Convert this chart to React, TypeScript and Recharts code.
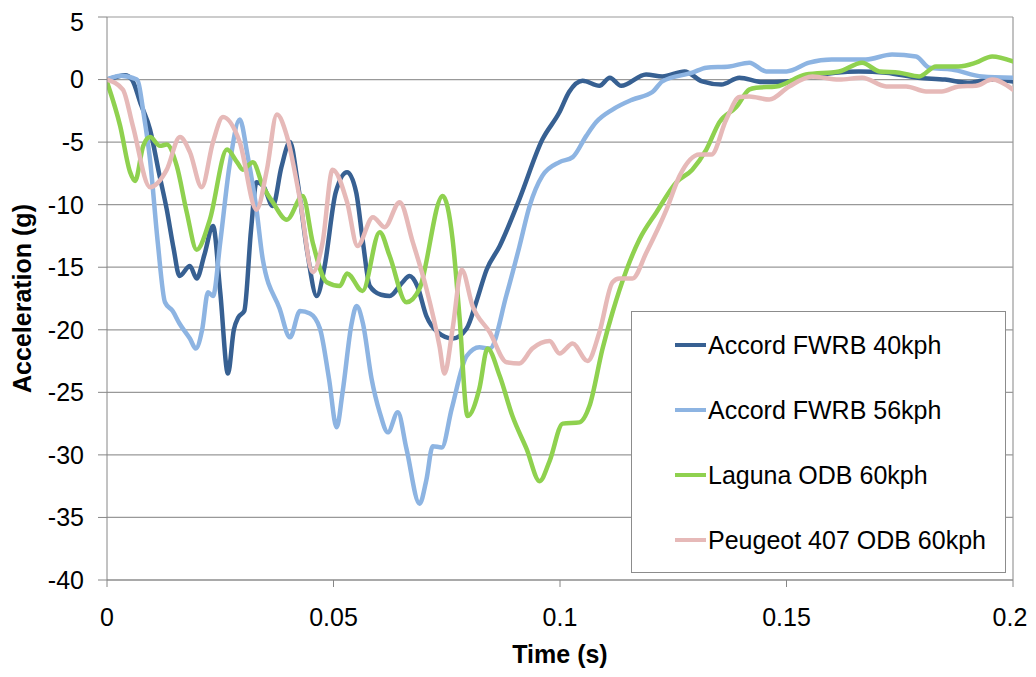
import {
  LineChart,
  Line,
  XAxis,
  YAxis,
  CartesianGrid,
  Legend,
  ReferenceLine,
} from "recharts";

const FONT = '"Liberation Sans", Arial, sans-serif';

const xTicks = [0, 0.05, 0.1, 0.15, 0.2];
const yTicks = [-40, -35, -30, -25, -20, -15, -10, -5, 0, 5];

// Accord FWRB 40kph
const accord40T = [
  0, 0.002, 0.004, 0.0055, 0.0075, 0.0095, 0.0115, 0.0132, 0.0147, 0.016,
  0.0183, 0.0198, 0.0215, 0.0234, 0.025, 0.0267, 0.028, 0.029, 0.0303, 0.0318,
  0.033, 0.0345, 0.0366, 0.0385, 0.0404, 0.042, 0.0443, 0.0463, 0.048, 0.0505,
  0.053, 0.055, 0.0565, 0.058, 0.0605, 0.0624, 0.065, 0.0668, 0.0685, 0.0705,
  0.073, 0.0763, 0.0794, 0.0815, 0.0838, 0.0867, 0.091, 0.0961, 0.0999, 0.102,
  0.105, 0.1087, 0.111, 0.1135, 0.119, 0.1226, 0.1275, 0.1314, 0.1356, 0.1396,
  0.1447, 0.15, 0.155, 0.166, 0.172, 0.179, 0.185, 0.19, 0.195, 0.2,
];
const accord40G = [
  0, 0.2, 0.35, 0, -2, -4, -7.5, -10.4, -13.5, -15.7,
  -14.9, -15.9, -14, -11.7, -17, -23.5, -20, -19, -18.5, -12,
  -8.2, -8.5, -10.1, -7, -5, -8, -14, -17.3, -15, -9,
  -7.4, -9, -13, -16.5, -17.2, -17.3, -16.3, -15.7, -16.5, -18.9,
  -20.2, -20.7, -19.9, -17.8, -15.2, -13.3, -9.6, -4.8, -2.6, -1.0,
  -0.1, -0.5, 0.15, -0.5, 0.4, 0.25, 0.65, -0.15, -0.4, 0.15,
  -0.2, -0.15, 0.25, 0.65, 0.55, 0.15, 0, -0.25, 0, -0.15,
];

// Accord FWRB 56kph
const accord56T = [
  0, 0.003, 0.0066, 0.0082, 0.0095, 0.0112, 0.0128, 0.0145, 0.016, 0.0183,
  0.0196, 0.021, 0.0223, 0.0234, 0.025, 0.027, 0.0293, 0.031, 0.033, 0.0344,
  0.0381, 0.0404, 0.0426, 0.0448, 0.047, 0.049, 0.0507, 0.052, 0.054, 0.0551,
  0.0565, 0.0584, 0.0602, 0.062, 0.0642, 0.0661, 0.069, 0.0705, 0.0719, 0.0739,
  0.0761, 0.0794, 0.0822, 0.0845, 0.0882, 0.091, 0.0933, 0.0961, 0.0999, 0.1028,
  0.1058, 0.108, 0.1116, 0.116, 0.1204, 0.1226, 0.1292, 0.1323, 0.1374, 0.1418,
  0.1455, 0.15, 0.155, 0.16, 0.1675, 0.1733, 0.1786, 0.1815, 0.1865, 0.1932,
  0.2,
];
const accord56G = [
  0, 0.3, 0, -3, -6.4, -13, -17.8, -18.5, -19.5, -20.7,
  -21.5, -20, -17, -17.3, -13, -7, -3.2, -6, -10.4, -14.4,
  -18.3, -20.6, -18.5, -18.7, -19.9, -23.9, -27.8, -25, -19.5, -18.1,
  -19.5, -23.9, -26.6, -28.2, -26.6, -29.5, -33.9, -32, -29.3, -29.4,
  -26.3, -22.1, -21.4, -21.5, -17.2, -13.4, -10.1, -7.7, -6.6, -6.2,
  -4.5, -3.4, -2.4, -1.6, -1.0, -0.15, 0.55, 0.95, 1.05, 1.35,
  0.65, 0.65, 1.35, 1.6, 1.6, 2.0, 1.85, 0.95, 0.8, 0.25,
  0.15,
];

// Laguna ODB 60kph
const lagunaT = [
  0, 0.0029, 0.0051, 0.0062, 0.008, 0.0095, 0.0117, 0.0132, 0.0154, 0.0176,
  0.0198, 0.0227, 0.0265, 0.0287, 0.03, 0.0322, 0.0344, 0.0366, 0.0397, 0.0432,
  0.0454, 0.0485, 0.0514, 0.053, 0.0564, 0.0602, 0.0624, 0.0661, 0.069, 0.0741,
  0.0763, 0.0778, 0.0796, 0.0822, 0.084, 0.0867, 0.0895, 0.0926, 0.0955, 0.0977,
  0.1006, 0.1043, 0.1065, 0.1094, 0.1116, 0.1147, 0.1175, 0.1213, 0.1257, 0.1292,
  0.1323, 0.1352, 0.1389, 0.1418, 0.1433, 0.1477, 0.1543, 0.1616, 0.1667, 0.1705,
  0.1749, 0.1793, 0.183, 0.188, 0.1918, 0.1954, 0.2,
];
const lagunaG = [
  -0.2, -3.7, -7.4, -8.1, -5.3, -4.6, -5.3, -5.2, -6.9, -10.6,
  -13.6, -11.2, -5.6, -6.6, -7.2, -6.6, -8.5, -9.8, -11.2, -9.3,
  -13, -16.2, -16.5, -15.5, -16.9, -12.2, -14.1, -17.8, -16.7, -9.3,
  -12.8, -18.9, -26.9, -24.7, -21.5, -23.7, -26.9, -29.5, -32.1, -30.5,
  -27.5, -27.4, -26.1, -21.5, -18.6, -15.2, -12.8, -10.6, -8.2, -7.2,
  -5.6, -3.4, -2.2, -0.8, -0.65, -0.55, 0.4, 0.65, 1.35, 0.65,
  0.55, 0.25, 1.05, 1.05, 1.35, 1.85, 1.45,
];

// Peugeot 407 ODB 60kph
const peugeotT = [
  0, 0.0035, 0.0057, 0.0095, 0.0132, 0.0161, 0.0183, 0.0209, 0.0234, 0.0256,
  0.0293, 0.033, 0.0353, 0.0375, 0.0397, 0.0426, 0.0454, 0.0476, 0.0498, 0.053,
  0.0553, 0.0587, 0.0613, 0.0646, 0.0675, 0.0705, 0.0734, 0.0745, 0.0763, 0.0783,
  0.0807, 0.0845, 0.0882, 0.091, 0.0939, 0.0977, 0.0999, 0.1028, 0.1061, 0.1087,
  0.1116, 0.1131, 0.116, 0.1191, 0.1235, 0.1264, 0.1308, 0.1334, 0.1367, 0.1396,
  0.1418, 0.1462, 0.1506, 0.1557, 0.1616, 0.1667, 0.172, 0.1764, 0.1808, 0.1843,
  0.188, 0.1918, 0.1954, 0.2,
];
const peugeotG = [
  0, -0.8, -3.7, -8.6, -7.2, -4.6, -5.8, -8.6, -5.0, -3.0,
  -5.0, -10.4, -7.2, -2.8, -4.5, -9.6, -15.4, -13, -7.2, -9.8,
  -13.3, -11.0, -11.8, -9.8, -13, -16.7, -21.3, -23.5, -19.9, -15.2,
  -18.1, -20.2, -22.6, -22.7, -21.5, -20.9, -21.9, -21.1, -22.5, -20.2,
  -16.2, -15.9, -15.9, -13.8, -10.4, -7.7, -6.0, -6.0, -3.2, -1.4,
  -1.35, -1.6, -0.55, 0.25, 0, 0.15, -0.55, -0.55, -0.95, -0.95,
  -0.55, -0.5, 0, -0.8,
];

const toPoints = (ts: number[], gs: number[]) =>
  ts.map((t, i) => ({ t, g: gs[i] }));

const series = [
  { name: "Accord FWRB 40kph", color: "#376092", data: toPoints(accord40T, accord40G) },
  { name: "Accord FWRB 56kph", color: "#8db4e2", data: toPoints(accord56T, accord56G) },
  { name: "Laguna ODB 60kph", color: "#8fd14f", data: toPoints(lagunaT, lagunaG) },
  { name: "Peugeot 407 ODB 60kph", color: "#e6b9b8", data: toPoints(peugeotT, peugeotG) },
];

const renderLegend = () => (
  <div
    style={{
      position: "relative",
      width: 375,
      height: 262,
      boxSizing: "border-box",
      border: "1px solid #8c8c8c",
      background: "#fff",
      fontFamily: FONT,
      fontSize: 25,
      color: "#000",
    }}
  >
    {series.map((s, i) => (
      <div
        key={s.name}
        style={{
          position: "absolute",
          left: 43,
          top: 33 + i * 65 - 15,
          height: 30,
          display: "flex",
          alignItems: "center",
          whiteSpace: "nowrap",
        }}
      >
        <span
          style={{
            display: "inline-block",
            width: 31,
            height: 4,
            background: s.color,
            marginRight: 2,
          }}
        />
        <span>{s.name}</span>
      </div>
    ))}
  </div>
);

// x tick labels; the last one is nudged left so it stays inside the picture
const XTick = (props: any) => {
  const { x, y, payload } = props;
  const shift = payload.value === 0.2 ? -3 : 0;
  return (
    <text
      x={x + shift}
      y={y}
      dy="0.71em"
      textAnchor="middle"
      fontFamily={FONT}
      fontSize={25}
      fill="#000"
    >
      {String(payload.value)}
    </text>
  );
};

const YTitle = (props: any) => {
  const vb = props.viewBox || { y: 9, height: 563 };
  const cy = vb.y + vb.height / 2;
  return (
    <text
      x={14}
      y={cy}
      transform={`rotate(-90, 14, ${cy})`}
      textAnchor="middle"
      dominantBaseline="central"
      fontFamily={FONT}
      fontSize={25}
      fontWeight="bold"
      fill="#000"
    >
      Acceleration (g)
    </text>
  );
};

const XTitle = (props: any) => {
  const vb = props.viewBox || { x: 99, width: 906 };
  return (
    <text
      x={vb.x + vb.width / 2}
      y={655}
      textAnchor="middle"
      fontFamily={FONT}
      fontSize={25}
      fontWeight="bold"
      fill="#000"
    >
      Time (s)
    </text>
  );
};

export default function App() {
  return (
    <LineChart
      width={1020}
      height={661}
      margin={{ top: 9, right: 15, bottom: 0, left: 0 }}
    >
      <CartesianGrid vertical={false} stroke="#999999" strokeWidth={1.2} />
      <XAxis
        dataKey="t"
        type="number"
        domain={[0, 0.2]}
        ticks={xTicks}
        allowDataOverflow
        height={89}
        stroke="#868686"
        tickSize={7}
        tickMargin={21}
        tick={XTick}
        label={{ content: XTitle }}
      />
      <YAxis
        type="number"
        domain={[-40, 5]}
        ticks={yTicks}
        allowDataOverflow
        width={99}
        stroke="#868686"
        tickSize={9}
        tickMargin={14}
        tick={{ fill: "#000", fontSize: 25, fontFamily: FONT }}
        label={{ content: YTitle }}
      />
      <ReferenceLine x={0.2} stroke="#999999" strokeWidth={1.2} />
      {series.map((s) => (
        <Line
          key={s.name}
          data={s.data}
          dataKey="g"
          name={s.name}
          type="monotone"
          stroke={s.color}
          strokeWidth={4.5}
          dot={false}
          activeDot={false}
          strokeLinejoin="round"
          strokeLinecap="round"
          isAnimationActive={false}
        />
      ))}
      <Legend
        layout="vertical"
        align="center"
        verticalAlign="middle"
        content={renderLegend}
        wrapperStyle={{ left: 623, top: 303, width: 375, height: 262, margin: 0 }}
      />
    </LineChart>
  );
}
